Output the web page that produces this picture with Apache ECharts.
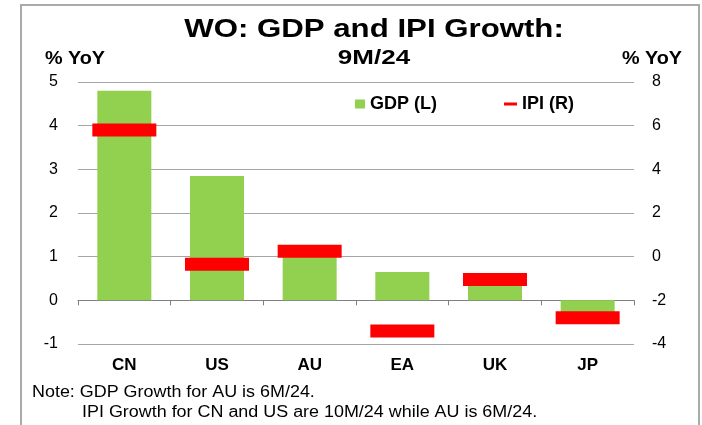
<!DOCTYPE html>
<html>
<head>
<meta charset="utf-8">
<script src="https://cdn.jsdelivr.net/npm/echarts@6/dist/echarts.min.js"></script>
<style>
  html, body { margin: 0; padding: 0; background: #fff; }
  #chart { width: 702px; height: 425px; }
</style>
</head>
<body>
<div id="chart"></div>
<script>
// data
var countries = ['CN', 'US', 'AU', 'EA', 'UK', 'JP']
var gdpGrowth = [4.8, 2.85, 1.0, 0.65, 0.4, -0.3]   // left axis
var ipiGrowth = [5.8, -0.35, 0.25, -3.4, -1.05, -2.8] // right axis
var leftTicks = { min: -1, max: 5, interval: 1 }
var rightTicks = { min: -4, max: 8, interval: 2 }

var font = "'Liberation Sans', Arial, sans-serif"
let myChart = echarts.init(document.getElementById('chart'))

let option = {
  animation: false,
  backgroundColor: '#fff',
  textStyle: { fontFamily: font, color: '#000' },
  grid: { left: 78, right: 68, top: 82, bottom: 81 },
  legend: [
    {
      left: 355, top: 95, padding: 0,
      itemWidth: 10, itemHeight: 9,
      data: [{ name: 'GDP (L)', icon: 'rect' }],
      textStyle: { fontFamily: font, fontSize: 18, fontWeight: 'bold', color: '#000' }
    },
    {
      left: 504, top: 95, padding: 0,
      itemWidth: 13, itemHeight: 3,
      data: [{ name: 'IPI (R)', icon: 'rect' }],
      textStyle: { fontFamily: font, fontSize: 18, fontWeight: 'bold', color: '#000' }
    }
  ],
  xAxis: [
    {
      type: 'category',
      data: countries,
      axisLine: { onZero: true, lineStyle: { color: '#7f7f7f', width: 1 } },
      axisTick: { show: true, length: 5, lineStyle: { color: '#7f7f7f' } },
      axisLabel: { show: false },
      splitLine: { show: false }
    },
    {
      type: 'category',
      data: countries,
      position: 'bottom',
      axisLine: { show: false },
      axisTick: { show: false },
      axisLabel: { margin: 13, fontSize: 17, fontWeight: 'bold', color: '#000', fontFamily: font },
      splitLine: { show: false }
    }
  ],
  yAxis: [
    {
      type: 'value',
      min: leftTicks.min, max: leftTicks.max, interval: leftTicks.interval,
      axisLine: { show: false },
      axisTick: { show: false },
      axisLabel: { margin: 20, fontSize: 16, color: '#000', fontFamily: font },
      splitLine: { show: true, lineStyle: { color: '#a6a6a6', width: 1 } }
    },
    {
      type: 'value',
      position: 'right',
      min: rightTicks.min, max: rightTicks.max, interval: rightTicks.interval,
      axisLine: { show: false },
      axisTick: { show: false },
      axisLabel: { margin: 18, fontSize: 16, color: '#000', fontFamily: font },
      splitLine: { show: false }
    }
  ],
  series: [
    {
      name: 'GDP (L)',
      type: 'bar',
      xAxisIndex: 0,
      yAxisIndex: 0,
      barWidth: 54,
      itemStyle: { color: '#92D050' },
      data: gdpGrowth,
      z: 2
    },
    {
      name: 'IPI (R)',
      type: 'scatter',
      xAxisIndex: 0,
      yAxisIndex: 1,
      symbol: 'rect',
      symbolSize: [64, 13],
      itemStyle: { color: '#FF0000', opacity: 1 },
      data: ipiGrowth,
      z: 3
    }
  ],
  graphic: [
    {
      type: 'rect',
      shape: { x: 21, y: 5, width: 678, height: 440 },
      style: { fill: 'none', stroke: '#aaaaaa', lineWidth: 2 },
      silent: true
    },
    {
      type: 'text', x: 374, y: 30, scaleX: 1.2,
      style: { text: 'WO: GDP and IPI Growth:', font: 'bold 26px ' + font, fill: '#000', textAlign: 'center', textVerticalAlign: 'middle' }
    },
    {
      type: 'text', x: 374, y: 58, scaleX: 1.3,
      style: { text: '9M/24', font: 'bold 20px ' + font, fill: '#000', textAlign: 'center', textVerticalAlign: 'middle' }
    },
    {
      type: 'text', x: 75, y: 59, scaleX: 1.1,
      style: { text: '% YoY', font: 'bold 18px ' + font, fill: '#000', textAlign: 'center', textVerticalAlign: 'middle' }
    },
    {
      type: 'text', x: 652, y: 59, scaleX: 1.1,
      style: { text: '% YoY', font: 'bold 18px ' + font, fill: '#000', textAlign: 'center', textVerticalAlign: 'middle' }
    },
    {
      type: 'text', x: 32, y: 393, scaleX: 1.12,
      style: { text: 'Note: GDP Growth for AU is 6M/24.', font: '16px ' + font, fill: '#000', textAlign: 'left', textVerticalAlign: 'middle' }
    },
    {
      type: 'text', x: 82, y: 413, scaleX: 1.12,
      style: { text: 'IPI Growth for CN and US are 10M/24 while AU is 6M/24.', font: '16px ' + font, fill: '#000', textAlign: 'left', textVerticalAlign: 'middle' }
    }
  ]
}
myChart.setOption(option)
</script>
</body>
</html>
